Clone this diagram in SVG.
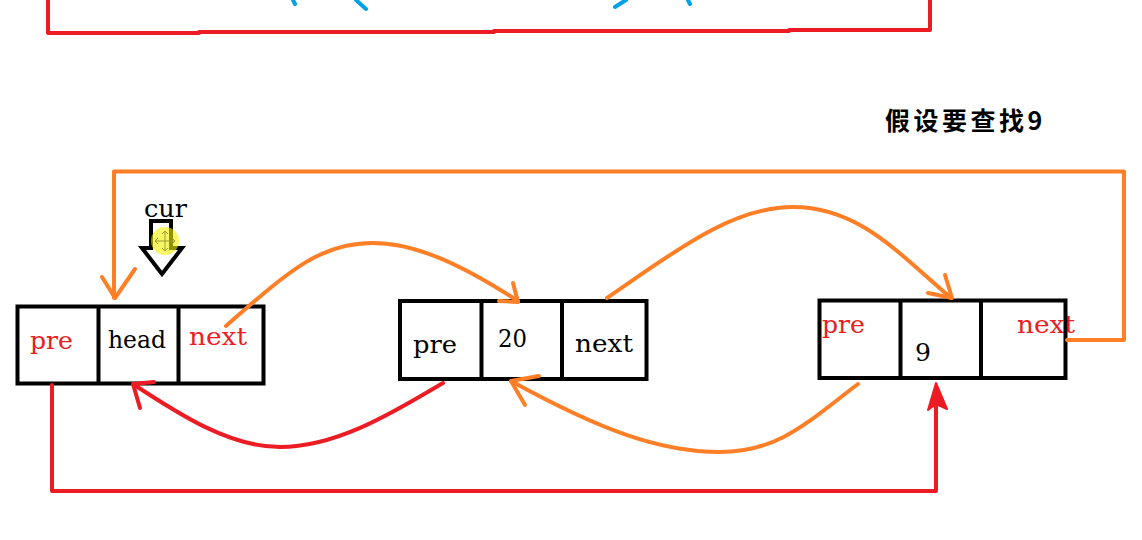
<svg xmlns="http://www.w3.org/2000/svg" width="1142" height="540" viewBox="0 0 1142 540">
<style>
.box{fill:none;stroke:#000;stroke-width:4}
.t{font-family:"DejaVu Serif","Liberation Serif",serif;font-size:25px}
.red{fill:#ed1c24}
.blk{fill:#000}
.or{fill:none;stroke:#ff7f27;stroke-width:4;stroke-linecap:round;stroke-linejoin:round}
.rd{fill:none;stroke:#ed1c24;stroke-width:4;stroke-linecap:round;stroke-linejoin:round}
.bl{fill:none;stroke:#00a2e8;stroke-width:4;stroke-linecap:round}
</style>
<rect width="1142" height="540" fill="#fff"/>
<g id="top-fragment">
<path class="rd" d="M48,0 V33 H199 M199,32 H494 M494,31 H789 M789,30 H930 V0" stroke-linecap="butt"/>
<path class="bl" d="M293,0 L295,4 M356,0 L366,9 M626,0 L615,7 M688,0 L690,4"/>
</g>
<g id="title">
<text x="885" y="130" font-family="'Noto Sans CJK SC',sans-serif" font-size="25" font-weight="700" fill="#000" letter-spacing="3.5">假设要查找9</text>
</g>
<g id="node-head">
<text class="t red" x="30" y="349" textLength="43" lengthAdjust="spacingAndGlyphs">pre</text>
<text class="t blk" x="108" y="348" textLength="58" lengthAdjust="spacingAndGlyphs">head</text>
<text class="t red" x="189" y="345" textLength="58" lengthAdjust="spacingAndGlyphs">next</text>
<rect class="box" x="17.5" y="306.5" width="246" height="77"/>
<path class="box" d="M98.5,306.5 V383.5 M178.5,306.5 V383.5"/>
</g>
<g id="node-20">
<text class="t blk" x="413" y="353" textLength="44" lengthAdjust="spacingAndGlyphs">pre</text>
<text class="t blk" x="498" y="347" textLength="29" lengthAdjust="spacingAndGlyphs">20</text>
<text class="t blk" x="575" y="352" textLength="58" lengthAdjust="spacingAndGlyphs">next</text>
<rect class="box" x="400" y="301" width="246.5" height="78"/>
<path class="box" d="M481.5,301 V379 M562,301 V379"/>
</g>
<g id="node-9">
<text class="t red" x="822" y="333" textLength="43" lengthAdjust="spacingAndGlyphs">pre</text>
<text class="t blk" x="915" y="361">9</text>
<text class="t red" x="1017" y="333" textLength="58" lengthAdjust="spacingAndGlyphs">next</text>
<rect class="box" x="819.5" y="300.5" width="246" height="77.5"/>
<path class="box" d="M900.5,300.5 V378 M981,300.5 V378"/>
</g>
<g id="cur">
<text class="t blk" x="144" y="217" textLength="43" lengthAdjust="spacingAndGlyphs">cur</text>
<path d="M151,221 H171 V248 H182 L162,274 L142,248 H151 Z" fill="#fff" stroke="#000" stroke-width="4" stroke-linejoin="miter"/>
<circle cx="165" cy="241" r="14" fill="#f2f000" opacity="0.6"/>
<path d="M155,241 H175 M165,231 V251 M155,241 l3,-3 M155,241 l3,3 M175,241 l-3,-3 M175,241 l-3,3 M165,231 l-3,3 M165,231 l3,3 M165,251 l-3,-3 M165,251 l3,-3" fill="none" stroke="#9c9a2c" stroke-width="1"/>
</g>
<g id="connectors">
<path class="or" d="M1067,340 H1124 V171.5 H114 V298"/>
<path class="or" d="M102,277 L115,298 L135,269"/>
<path class="or" d="M226,326 C290,270 320,243 373,243 C420,243 470,270 518,301"/>
<path class="or" d="M513,283 L518,302 L499,301"/>
<path class="or" d="M607,298 C670,255 730,207 793,207 C860,207 900,255 951,298"/>
<path class="or" d="M945,275 L952,298 L928,293"/>
<path class="or" d="M858,384 C810,420 780,452 720,452 C660,452 600,430 511,381"/>
<path class="or" d="M525,405 L511,381 L539,376"/>
<path class="rd" d="M443,383 C400,408 340,447 280,447 C230,447 180,415 133,384"/>
<path class="rd" d="M140,408 L133,384 L154,382"/>
<path class="rd" d="M52,385 V491 H936 V402" stroke-linejoin="miter"/>
<polygon points="936,383 928,410 936,404 947,409" fill="#ed1c24" stroke="#ed1c24" stroke-width="2" stroke-linejoin="round"/>
</g>
</svg>
